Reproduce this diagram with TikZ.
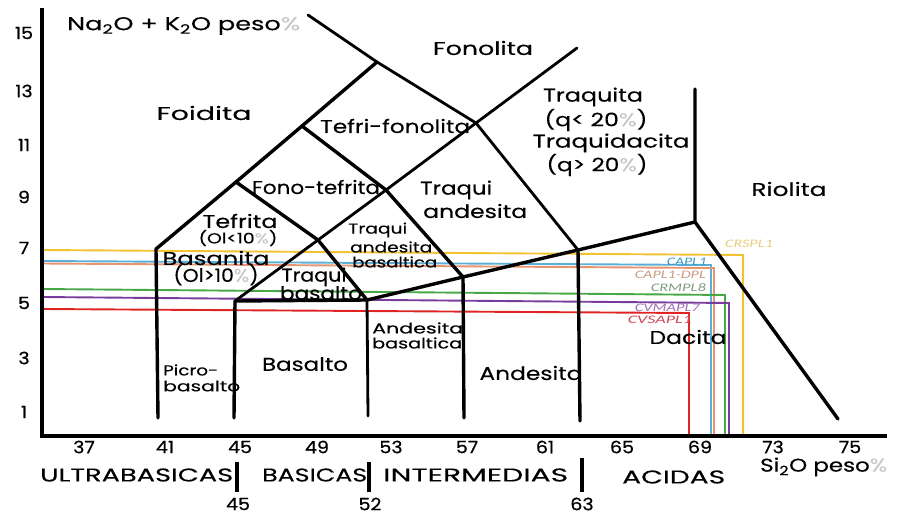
\documentclass[tikz,border=0pt]{standalone}
\usepackage{fontspec}
\setmainfont{Poppins}[FakeBold=0.25]
\newfontfamily\tickfont{Poppins}[FakeBold=0.6, FakeStretch=1.12]
\newfontfamily\labfont{Carlito}
\usetikzlibrary{calc}
\definecolor{pcgray}{HTML}{C8C8C8}
\definecolor{cyel}{HTML}{F2C230}
\definecolor{cblu}{HTML}{5AAFD8}
\definecolor{cora}{HTML}{E8946E}
\definecolor{cgrn}{HTML}{48A848}
\definecolor{cpur}{HTML}{7A3C9C}
\definecolor{cred}{HTML}{E02424}
\definecolor{tyel}{HTML}{E8CC80}
\definecolor{tblu}{HTML}{3C98C8}
\definecolor{tora}{HTML}{C89A84}
\definecolor{tgrn}{HTML}{7E9C84}
\definecolor{tpur}{HTML}{A070B8}
\definecolor{tred}{HTML}{D04858}
\newcommand\pc{\textcolor{pcgray}{\%}}
\newcommand\fw[2]{\resizebox{#1pt}{\height}{#2}}
\newcommand\sbt{\textsubscript{2}}
\tikzset{
  bound/.style={line width=3.4pt, line cap=round, line join=round},
  thinb/.style={line width=2.8pt, line cap=round, line join=round},
  axisl/.style={line width=4.5pt},
  sample/.style={line width=1.9pt},
  rock/.style={font=\fontsize{18.5}{19}\selectfont, inner sep=0pt},
  rocks/.style={font=\fontsize{14.5}{15}\selectfont, inner sep=0pt},
  tick/.style={font=\tickfont\fontsize{17}{18}\selectfont, inner sep=0pt},
  slab/.style={font=\labfont\itshape\fontsize{11.5}{12}\selectfont, inner sep=0pt}
}
\begin{document}
\begin{tikzpicture}[x=1pt,y=-1pt]
\useasboundingbox (0,0) rectangle (897,516);
% vertices
\coordinate (A) at (156,249);
\coordinate (A1) at (158,418);
\coordinate (FT) at (236,182);
\coordinate (TF) at (302,126);
\coordinate (T) at (377,62);
\coordinate (S) at (308,15);
\coordinate (R1) at (476,123);
\coordinate (E) at (577,48);
\coordinate (FR) at (386,190);
\coordinate (TA) at (318,240);
\coordinate (B45) at (235,301);
\coordinate (B52) at (367,300);
\coordinate (V57) at (463,277);
\coordinate (V63) at (578,250);
\coordinate (DR) at (695,222);
\coordinate (RT) at (695,89);
\coordinate (RE) at (838,419);
\coordinate (O) at (42,436);
\coordinate (YT) at (42,8);
\coordinate (XE) at (887,436);
% sample lines
\draw[sample, cyel] (42,250) -- (743,255) -- (743,437);
\draw[sample, cblu] (42,261) -- (711,265) -- (711,437);
\draw[sample, cora] (42,263.5) -- (714,268) -- (714,437);
\draw[sample, cgrn] (42,289) -- (725,295) -- (725,437);
\draw[sample, cpur] (42,297) -- (729,303) -- (729,437);
\draw[sample, cred] (42,309) -- (689,313) -- (689,437);
% axes
\draw[axisl] (YT) -- (O) -- (XE);
% boundaries
\draw[bound] (A1) -- (A) -- (FT) -- (TF) -- (T);
\draw[thinb] (S) -- (T) -- (R1) -- (V63);
\draw[thinb] (E) -- (R1) -- (FR) -- (TA) -- (B45);
\draw[bound] (TF) -- (FR) -- (V57);
\draw[bound] (FT) -- (TA) -- (B52);
\draw[bound] (B45) -- (B52) -- (V57) -- (V63) -- (DR);
\draw[bound] (B45) -- (234,418);
\draw[thinb] (B52) -- (368,416);
\draw[bound] (V57) -- (464,418);
\draw[bound] (V63) -- (580,421);
\draw[bound] (RT) -- (DR) -- (RE);
% bars under axis
\draw[line width=4.5pt] (237,462) -- (237,492);
\draw[line width=4pt] (369,462) -- (369,492);
\draw[line width=4.5pt] (582,458) -- (582,492);
% y ticks
\foreach \v/\y in {15/33,13/91,11/145,9/197,7/248,5/303,3/358,1/412}
  \node[tick] (yt\v) at (24,\y) {\v};
% x ticks
\foreach \v/\x [count=\i] in {37/84,41/165,45/240,49/317,53/391,57/467,61/545,65/622,69/700,73/773,75/850}
  \node[tick] (xt\i) at (\x,447) {\v};
\node[tick] (g45) at (238,504) {45};
\node[tick] (g52) at (370,504) {52};
\node[tick] (g63) at (582,504) {63};
% group labels
\node[rock, anchor=west] (gu) at (40,475) {\fw{193}{ULTRABASICAS}};
\node[rock, anchor=west] (gb) at (262,475) {\fw{105}{BASICAS}};
\node[rock, anchor=west] (gi) at (383,475) {\fw{185}{INTERMEDIAS}};
\node[rock, anchor=west] (ga) at (622,477) {\fw{103}{ACIDAS}};
\node[rock, anchor=west] (si) at (760,467) {\fw{127}{Si\sbt O peso\pc}};
\node[rock, anchor=west] (na) at (67,26) {\fw{233}{Na\sbt O + K\sbt O peso\pc}};
% rock names
\node[rock] (foid) at (204,113) {\fw{95}{Foidita}};
\node[rock] (fono) at (483,48) {\fw{100}{Fonolita}};
\node[rock, anchor=west] (tefo) at (320,126) {\fw{150}{Tefri-fonolita}};
\node[rock] (traq) at (593,97) {\fw{100}{Traquita}};
\node[rock] (q1) at (596,120) {\fw{103}{(q< 20\pc)}};
\node[rock] (trqd) at (611,143) {\fw{157}{Traquidacita}};
\node[rock] (q2) at (597,165) {\fw{101}{(q> 20\pc)}};
\node[rock] (rio) at (789,189) {\fw{75}{Riolita}};
\node[rock] (fote) at (316,187) {\fw{128}{Fono-tefrita}};
\node[rock, anchor=west] (ta1) at (420,190) {\fw{72}{Traqui}};
\node[rock, anchor=west] (ta2) at (423,211) {\fw{104}{andesita}};
\node[rock] (tef) at (240,221) {\fw{75}{Tefrita}};
\node[rocks] (tef2) at (238,238) {\fw{79}{(Ol<10\pc)}};
\node[rock] (bas) at (216,258) {\fw{107}{Basanita}};
\node[rock] (bas2) at (216,275) {\fw{85}{(Ol>10\pc)}};
\node[rock] (tb1) at (314,277) {\fw{65}{Traqui}};
\node[rock] (tb2) at (321,293) {\fw{82}{basalto}};
\node[rocks, anchor=west] (tab1) at (348,230) {\fw{59}{Traqui}};
\node[rocks, anchor=west] (tab2) at (350,247) {\fw{82}{andesita}};
\node[rocks, anchor=west] (tab3) at (352,262) {\fw{85}{basaltica}};
\node[rocks, anchor=west] (pic1) at (163,370) {\fw{55}{Picro-}};
\node[rocks, anchor=west] (pic2) at (163,386) {\fw{77}{basalto}};
\node[rock] (basa) at (305,364) {\fw{86}{Basalto}};
\node[rocks, anchor=west] (ab1) at (372,328) {\fw{91}{Andesita}};
\node[rocks, anchor=west] (ab2) at (372,343) {\fw{90}{basaltica}};
\node[rock] (and) at (531,373) {\fw{103}{Andesita}};
\node[rock] (dac) at (688,337) {\fw{77}{Dacita}};
% sample labels
\node[slab, tyel] (l1) at (749,244) {\fw{48}{CRSPL1}};
\node[slab, tblu, anchor=east] (l2) at (707,262) {\fw{40}{CAPL1}};
\node[slab, tora, anchor=east] (l3) at (706,275) {\fw{71}{CAPL1-DPL}};
\node[slab, tgrn, anchor=east] (l4) at (706,288) {\fw{55}{CRMPL8}};
\node[slab, tpur, anchor=east] (l5) at (700,308) {\fw{65}{CVMAPL7}};
\node[slab, tred, anchor=east] (l6) at (692,320) {\fw{64}{CVSAPL1}};
\end{tikzpicture}
\end{document}
